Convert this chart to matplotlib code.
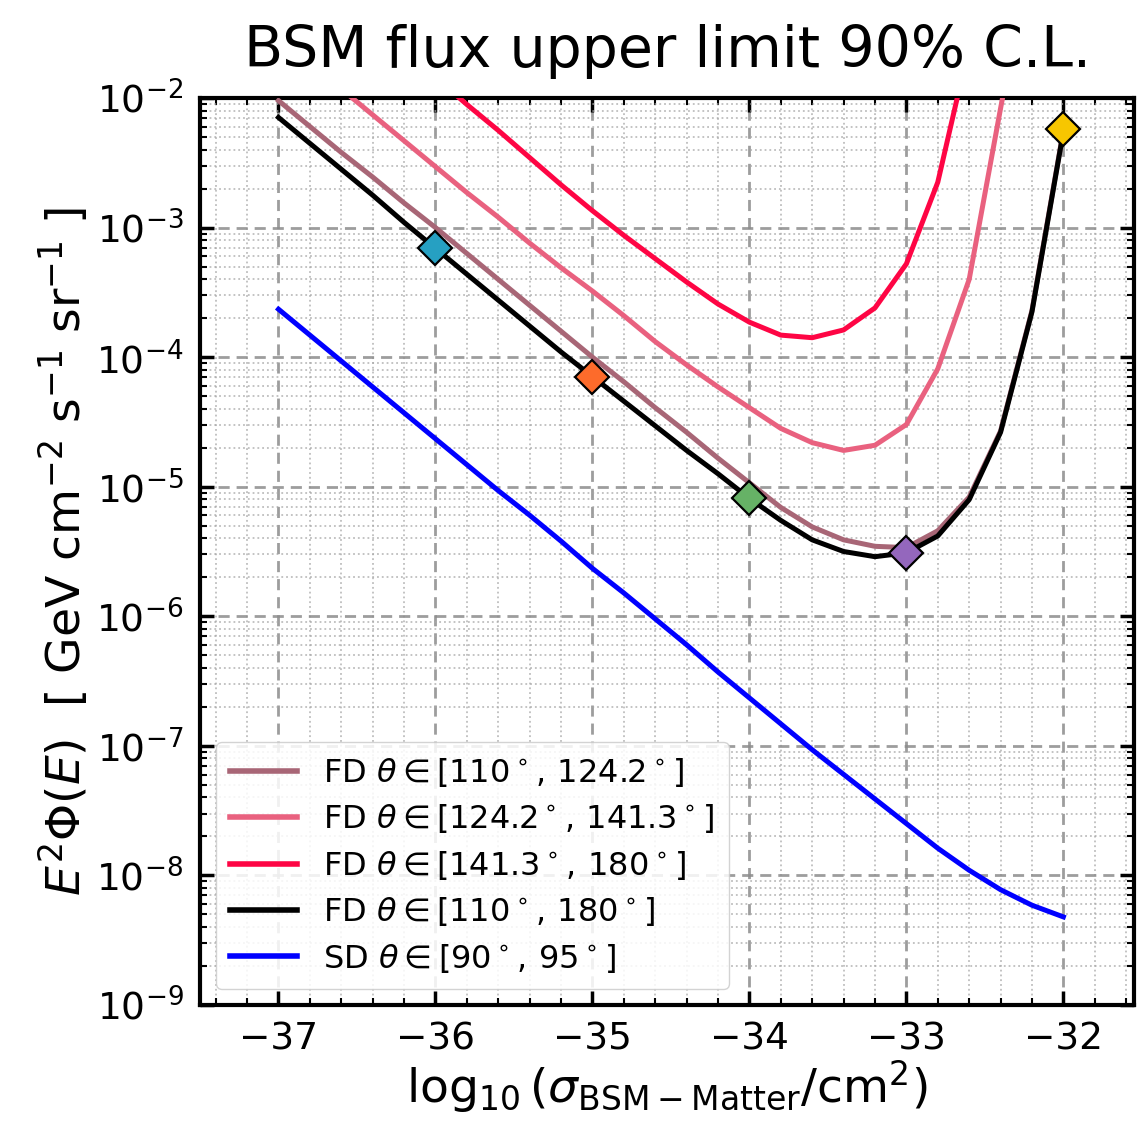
import numpy as np
import matplotlib
matplotlib.use("Agg")
import matplotlib.pyplot as plt
from matplotlib.ticker import MultipleLocator, LogLocator

# log10(sigma / cm^2)
x_all = [-37.0, -36.8, -36.6, -36.4, -36.2, -36.0, -35.8, -35.6, -35.4, -35.2,
         -35.0, -34.8, -34.6, -34.4, -34.2, -34.0, -33.8, -33.6, -33.4, -33.2,
         -33.0, -32.8, -32.6, -32.4, -32.2, -32.0]

# log10 of E^2 Phi(E) upper limits
logflux_fd_110_124 = [-2.02, -2.22, -2.42, -2.61, -2.81, -3.00, -3.20, -3.40, -3.60, -3.80,
                      -4.00, -4.19, -4.39, -4.58, -4.78, -4.97, -5.16, -5.31, -5.41, -5.46,
                      -5.47, -5.34, -5.08, -4.57, -3.64, -2.25]
logflux_fd_124_141 = [-1.55, -1.74, -1.93, -2.13, -2.33, -2.53, -2.73, -2.92, -3.12, -3.31,
                      -3.49, -3.68, -3.88, -4.06, -4.23, -4.39, -4.55, -4.66, -4.72, -4.68,
                      -4.52, -4.09, -3.40, -2.08, -0.80]
logflux_fd_141_180 = [-0.82, -1.02, -1.22, -1.43, -1.63, -1.84, -2.05, -2.25, -2.46, -2.67,
                      -2.87, -3.06, -3.24, -3.42, -3.59, -3.73, -3.83, -3.85, -3.79, -3.62,
                      -3.28, -2.65, -1.60]
logflux_fd_110_180 = [-2.15, -2.35, -2.55, -2.75, -2.96, -3.16, -3.36, -3.56, -3.76, -3.96,
                      -4.15, -4.34, -4.53, -4.72, -4.90, -5.09, -5.26, -5.41, -5.50, -5.54,
                      -5.51, -5.38, -5.10, -4.58, -3.65, -2.26]
logflux_sd_90_95 = [-3.63, -3.83, -4.03, -4.23, -4.43, -4.63, -4.83, -5.03, -5.22, -5.42,
                    -5.63, -5.82, -6.02, -6.22, -6.43, -6.63, -6.83, -7.03, -7.22, -7.41,
                    -7.60, -7.79, -7.96, -8.11, -8.23, -8.32]

marker_x = [-36.0, -35.0, -34.0, -33.0, -32.0]
marker_logflux = [-3.16, -4.15, -5.09, -5.51, -2.24]
marker_colors = ["#26a0c2", "#fd6b2b", "#66b266", "#9467bd", "#f7c600"]

labels = [r"FD $\theta \in [110\,{}^{\circ}\,, \, 124.2\,{}^{\circ}\,]$",
          r"FD $\theta \in [124.2\,{}^{\circ}\,, \, 141.3\,{}^{\circ}\,]$",
          r"FD $\theta \in [141.3\,{}^{\circ}\,, \, 180\,{}^{\circ}\,]$",
          r"FD $\theta \in [110\,{}^{\circ}\,, \, 180\,{}^{\circ}\,]$",
          r"SD $\theta \in [90\,{}^{\circ}\,, \, 95\,{}^{\circ}\,]$"]
colors = ["#a86676", "#e9617f", "#fe0544", "#000000", "#0000ff"]
series = [logflux_fd_110_124, logflux_fd_124_141, logflux_fd_141_180,
          logflux_fd_110_180, logflux_sd_90_95]

W, H = 1138, 1129
fig = plt.figure(figsize=(W / 100, H / 100), dpi=100)
ax = fig.add_axes([200 / W, 1 - 1005 / H, (1134 - 200) / W, (1005 - 98) / H])

for ys, c, lab in zip(series, colors, labels):
    xs = np.array(x_all[:len(ys)])
    ax.plot(xs, 10 ** np.array(ys), color=c, lw=3.6, label=lab, zorder=3,
            solid_joinstyle="round")

for mx, my, mc in zip(marker_x, marker_logflux, marker_colors):
    ax.plot([mx], [10 ** my], marker="D", ms=17.5, mfc=mc, mec="black", mew=1.6,
            ls="none", zorder=5)

ax.set_yscale("log")
ax.set_xlim(-37.5, -31.55)
ax.set_ylim(1e-9, 1e-2)
ax.xaxis.set_major_locator(MultipleLocator(1))
ax.xaxis.set_minor_locator(MultipleLocator(0.2))
ax.yaxis.set_major_locator(LogLocator(base=10, numticks=20))
ax.yaxis.set_minor_locator(LogLocator(base=10, subs=np.arange(2, 10), numticks=20))

ax.grid(which="major", ls=(0, (4, 2.5)), color="#8c8c8c", lw=2.0, alpha=0.85, zorder=0)
ax.grid(which="minor", ls=":", color="#a8a8a8", lw=1.3, alpha=0.75, zorder=0)

ax.tick_params(which="both", direction="in", top=True, right=True)
ax.tick_params(which="major", length=10, width=2.5, labelsize=27, pad=12)
ax.tick_params(which="minor", length=5, width=1.5)
for s in ax.spines.values():
    s.set_linewidth(3)

ax.set_title("BSM flux upper limit 90% C.L.", fontsize=41, pad=22)
ax.set_xlabel(r"$\log_{10}(\sigma_{\rm BSM-Matter}/{\rm cm}^2)$", fontsize=34, labelpad=0)
ax.set_ylabel(r"$E^2\Phi(E)$  [ GeV cm$^{-2}$ s$^{-1}$ sr$^{-1}$ ]", fontsize=34, labelpad=4)

leg = ax.legend(loc="lower left", fontsize=23, labelspacing=0.42, handlelength=2.1,
                handletextpad=0.8, borderpad=0.45, framealpha=0.85, fancybox=True)
for lh in leg.get_lines():
    lh.set_linewidth(4)

fig.savefig("out.png", dpi=100)
